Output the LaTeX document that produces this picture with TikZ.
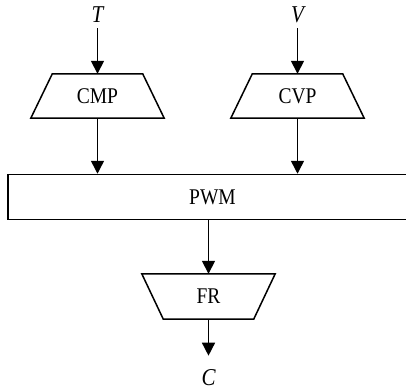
\documentclass[tikz,border=0pt]{standalone}
\usepackage{fontspec}
\usepackage{graphicx}
\setmainfont{Liberation Serif}
\usetikzlibrary{arrows.meta,calc}
\newcommand{\tallt}[1]{\scalebox{1}[1.15]{#1}}
\tikzset{
  blk/.style={minimum width=133pt,minimum height=44pt,inner sep=0pt,font=\fontsize{19.5}{22}\selectfont},
  lbl/.style={inner sep=0pt,font=\fontsize{21}{24}\selectfont\itshape},
  arr/.style={line width=1.5pt,-{Triangle[length=13pt,width=13pt]}},
  edge/.style={line width=1.5pt,line join=miter},
}
\begin{document}
\begin{tikzpicture}[x=1pt,y=-1pt]
\useasboundingbox (0,0) rectangle (406,391);
\clip (0,0) rectangle (406,391);
% labels
\node[lbl] (t) at (97.5,15) {\tallt{T}};
\node[lbl] (v) at (297.5,15) {\tallt{V}};
\node[lbl] (c) at (208.5,378) {\tallt{C}};
% trapezoid blocks
\node[blk] (cmp) at (97.5,96) {\tallt{CMP}};
\node[blk] (cvp) at (297.5,96) {\tallt{CVP}};
\node[blk,minimum height=45pt] (fr) at (208.5,296.5) {\tallt{FR}};
\draw[edge] (cmp.south west) -- (cmp.south east) -- ([xshift=-21.5pt]cmp.north east) -- ([xshift=21.5pt]cmp.north west) -- cycle;
\draw[edge] (cvp.south west) -- (cvp.south east) -- ([xshift=-21.5pt]cvp.north east) -- ([xshift=21.5pt]cvp.north west) -- cycle;
\draw[edge] (fr.north west) -- (fr.north east) -- ([xshift=-21.5pt]fr.south east) -- ([xshift=21.5pt]fr.south west) -- cycle;
% PWM bar (runs off the right edge)
\node[blk,draw,edge,minimum width=409pt,minimum height=45pt] (pwm) at (212.5,197) {\tallt{PWM}};
% connectors
\draw[arr,shorten <=5pt] (t) -- (cmp.north);
\draw[arr,shorten <=5pt] (v) -- (cvp.north);
\draw[arr] (cmp.south) -- (cmp.south |- pwm.north);
\draw[arr] (cvp.south) -- (cvp.south |- pwm.north);
\draw[arr] (pwm.south -| fr.north) -- (fr.north);
\draw[arr,shorten >=14pt] (fr.south) -- (c);
\end{tikzpicture}
\end{document}
